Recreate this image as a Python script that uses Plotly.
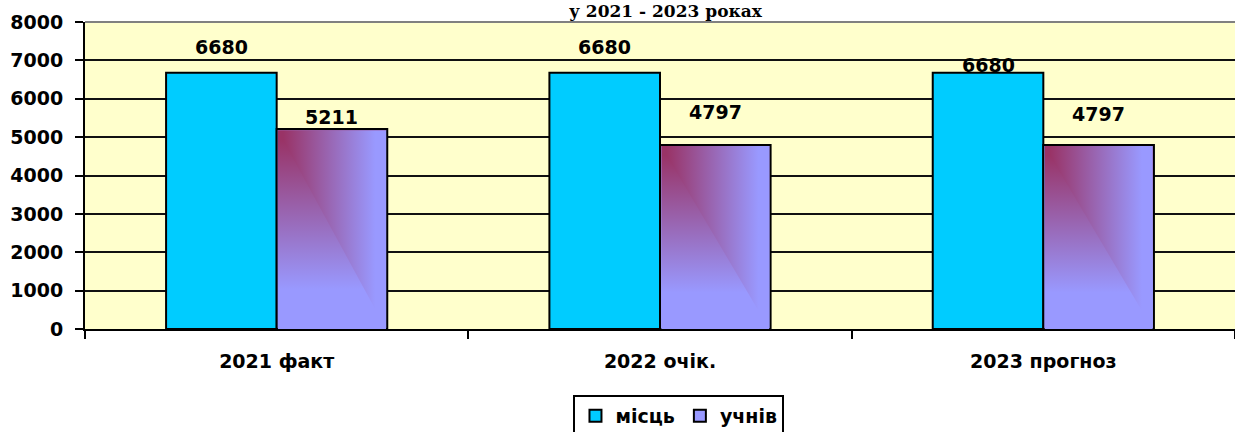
import base64
import plotly.graph_objects as go

# ------------------------------------------------------------
# Data
# ------------------------------------------------------------
categories = ["2021 факт", "2022 очік.", "2023 прогноз"]
places = [6680, 6680, 6680]      # місць
pupils = [5211, 4797, 4797]      # учнів
y_ticks = [0, 1000, 2000, 3000, 4000, 5000, 6000, 7000, 8000]

# manual label nudges (px above bar top), as in the source sheet
places_shift = [26, 26, 8]
pupils_shift = [12, 33, 31]

COLORS = {
    "paper": "#FFFFFF",
    "plot": "#FFFFCC",
    "blue": "#00CCFF",
    "violet": "#9999FF",
    "maroon": "#993366",
    "ink": "#000000",
    "frame": "#808080",
}

FONT = "DejaVu Sans, Arial, sans-serif"
W, H = 1235, 432
M = dict(l=85, r=0, t=22, b=103, autoexpand=False)
BARGAP = 0.423
bar_w = (1 - BARGAP) / 2

# pixel helpers for the gradient overlay inset
px_x = (W - M["l"] - M["r"]) / len(categories)
px_y = (H - M["t"] - M["b"]) / y_ticks[-1]


def corner_gradient(c0, c1):
    """SVG 'from corner' fill like the Excel bar."""
    svg = (
        "<svg xmlns='http://www.w3.org/2000/svg' viewBox='0 0 100 100' preserveAspectRatio='none'>"
        "<defs>"
        f"<linearGradient id='h' x1='0' y1='0' x2='1' y2='0'><stop offset='0.05' stop-color='{c0}'/>"
        f"<stop offset='0.9' stop-color='{c1}'/></linearGradient>"
        f"<linearGradient id='v' x1='0' y1='0' x2='0' y2='1'><stop offset='0.05' stop-color='{c0}'/>"
        f"<stop offset='0.8' stop-color='{c1}'/></linearGradient>"
        "</defs>"
        "<rect x='0' y='0' width='100' height='100' fill='url(#v)'/>"
        "<polygon points='0,0 100,0 100,100' fill='url(#h)'/>"
        "</svg>"
    )
    return "data:image/svg+xml;base64," + base64.b64encode(svg.encode()).decode()


fig = go.Figure()

fig.add_trace(go.Bar(
    x=categories, y=places, name="місць",
    marker=dict(color=COLORS["blue"], line=dict(color=COLORS["ink"], width=2)),
))
fig.add_trace(go.Bar(
    x=categories, y=pupils, name="учнів",
    marker=dict(color=COLORS["violet"], line=dict(color=COLORS["ink"], width=2)),
))

# gradient fill over the violet bars (inset so the outline stays visible)
grad = corner_gradient(COLORS["maroon"], COLORS["violet"])
ix, iy = 1.2 / px_x, 1.2 / px_y
for i, v in enumerate(pupils):
    fig.add_layout_image(
        source=grad, xref="x", yref="y",
        x=i + bar_w / 2, y=v - iy, xanchor="center", yanchor="top",
        sizex=bar_w - 2 * ix, sizey=v - iy, sizing="stretch", layer="above",
    )

# data labels
for i, (a, b) in enumerate(zip(places, pupils)):
    for xv, val, sh in ((i - bar_w / 2, a, places_shift[i]), (i + bar_w / 2, b, pupils_shift[i])):
        fig.add_annotation(
            x=xv, y=val, xref="x", yref="y", text=str(val), showarrow=False,
            yanchor="middle", yshift=sh,
            font=dict(family=FONT, size=19, color=COLORS["ink"], weight="bold"),
        )

# title (last line of the sheet title, kept inside the top margin)
fig.add_annotation(
    x=0.505, y=1, xref="paper", yref="paper", text="у 2021 - 2023 роках",
    showarrow=False, xanchor="center", yanchor="bottom", yshift=-1,
    font=dict(family="DejaVu Serif, Times New Roman, serif", size=17, color=COLORS["ink"], weight="bold"),
)

# grey top edge of the plot area
fig.add_shape(type="line", xref="paper", yref="paper", x0=0, x1=1, y0=1, y1=1,
              line=dict(color=COLORS["frame"], width=2))

fig.update_layout(
    width=W, height=H, margin=M,
    paper_bgcolor=COLORS["paper"], plot_bgcolor=COLORS["plot"],
    barmode="group", bargap=BARGAP, bargroupgap=0,
    font=dict(family=FONT, size=19, color=COLORS["ink"]),
    showlegend=True,
    legend=dict(
        orientation="h", x=0.5165, xanchor="center", y=-0.215, yanchor="top",
        bgcolor=COLORS["paper"], bordercolor=COLORS["ink"], borderwidth=2,
        font=dict(family=FONT, size=19, color=COLORS["ink"], weight="bold"),
        itemwidth=30, tracegroupgap=0,
    ),
)

fig.update_xaxes(
    automargin=False,
    showline=True, linecolor=COLORS["ink"], linewidth=2,
    ticks="outside", tickson="boundaries", ticklen=8, tickwidth=2, tickcolor=COLORS["ink"],
    ticklabelstandoff=14, showgrid=False,
    tickfont=dict(family=FONT, size=19, color=COLORS["ink"], weight="bold"),
)
fig.update_yaxes(
    automargin=False,
    range=[0, y_ticks[-1]], tickvals=y_ticks,
    showline=True, linecolor=COLORS["ink"], linewidth=2,
    ticks="outside", ticklen=8, tickwidth=2, tickcolor=COLORS["ink"],
    ticklabelstandoff=8,
    showgrid=True, gridcolor="#111111", gridwidth=2, zeroline=False,
    tickfont=dict(family=FONT, size=19, color=COLORS["ink"], weight="bold"),
)

# page body has a default 8px margin; drop it so the figure fills the window
fig.write_html(
    "out.html",
    config={"displayModeBar": False},
    post_script="document.body.style.margin='0';document.body.style.overflow='hidden';",
)
